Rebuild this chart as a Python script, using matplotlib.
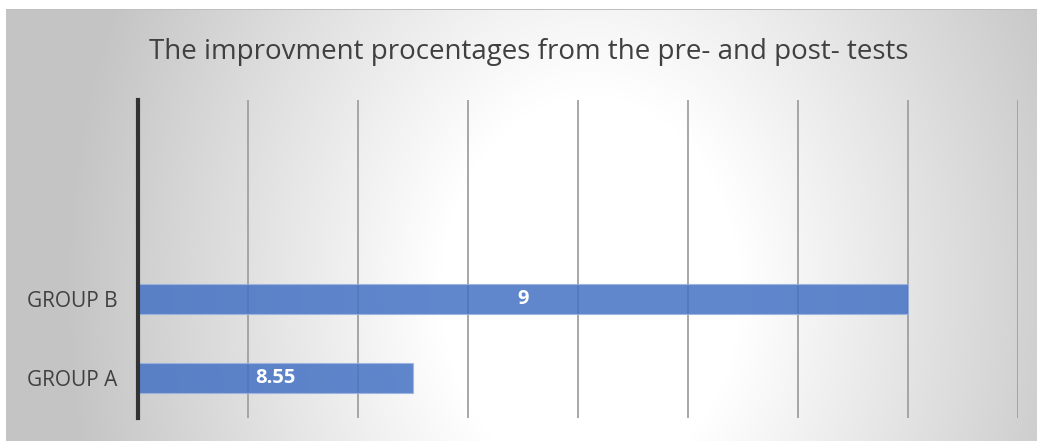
#!/usr/bin/env python3

# horizontal bar chart of improvement percentages, radial grey background

import matplotlib.pyplot as plt
import numpy as np

plt.rcParams["font.family"] = ["Open Sans", "DejaVu Sans"]

# data
groups = ["GROUP A", "GROUP B"]
values = [8.55, 9]
title = "The improvment procentages from the pre- and post- tests"

# colors
color_bar = "#4472c4"
color_grid = "#a0a0a0"
color_text = "#404040"

W, H = 1037, 441


def background(fig):
    """Draw a radial white-to-grey gradient behind the chart."""
    bg = fig.add_axes([0, 0, 1, 1], zorder=-10)
    yy, xx = np.mgrid[0:H, 0:W]
    r = np.sqrt(((xx - 590) / 500) ** 2 + ((yy - 290) / 650) ** 2)
    t = np.clip((r - 0.3) / 0.75, 0, 1)
    shade = 1 - 0.23 * t
    img = np.dstack([shade] * 3)
    # white strip at top and left, with a thin border line on top
    img[:9, :, :] = 1
    img[:, :6, :] = 1
    img[9, 6:, :] = 0.75
    bg.imshow(img, aspect="auto", extent=[0, W, H, 0])
    bg.set_axis_off()


def main():
    fig = plt.figure(figsize=(W / 100, H / 100), dpi=100)
    background(fig)

    ax = fig.add_axes([138 / W, 1 - 418 / H, (1018 - 138) / W, (418 - 100) / H])
    ax.set_facecolor("none")

    y = np.arange(len(groups))
    bars = ax.barh(y, values, height=0.38, color=color_bar, alpha=0.85, zorder=3,
                   edgecolor="#9db3e0", linewidth=0.8)
    ax.set_xlim(8.3, 9.1)
    ax.set_ylim(-0.5, 3.5)
    ax.set_xticks(np.arange(8.3, 9.11, 0.1))
    ax.xaxis.grid(True, color=color_grid, linewidth=1.3, zorder=1)
    ax.tick_params(axis="x", length=0, labelbottom=False)
    ax.set_yticks(y)
    ax.set_yticklabels(groups, fontsize=15, color=color_text)
    ax.tick_params(axis="y", length=0, pad=15)
    for s in ["top", "right", "bottom"]:
        ax.spines[s].set_visible(False)
    ax.spines["left"].set_color("#333333")
    ax.spines["left"].set_linewidth(3)
    ax.spines["left"].set_zorder(4)

    # value labels centered in the bars
    for bar, v in zip(bars, values):
        xc = (8.3 + bar.get_width()) / 2
        ax.text(xc, bar.get_y() + bar.get_height() / 2, f"{v:g}", ha="center", va="center",
                color="white", fontsize=14.5, fontweight="bold", zorder=5)

    fig.text(529 / W, 1 - 52 / H, title, ha="center", va="center", fontsize=20, color=color_text)

    fig.savefig("out.png", dpi=100)


if __name__ == "__main__":
    main()
